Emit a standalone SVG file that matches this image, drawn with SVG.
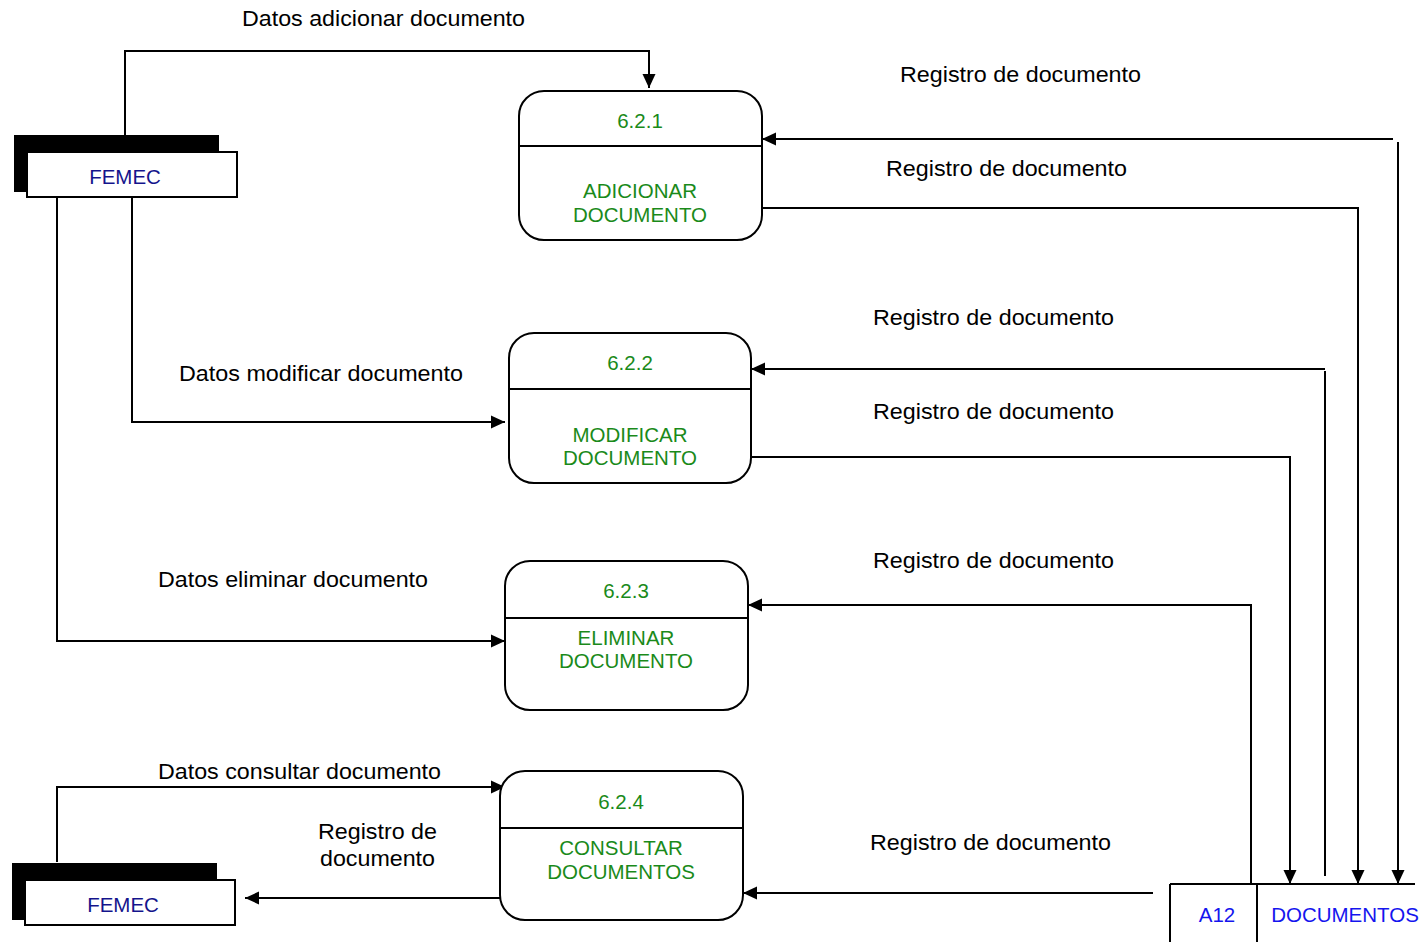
<svg xmlns="http://www.w3.org/2000/svg" width="1420" height="942" viewBox="0 0 1420 942">
<style>
.proc{fill:#fff;stroke:#000;stroke-width:2}
.div{stroke:#000;stroke-width:2}
.ln{fill:none;stroke:#000;stroke-width:2}
.pt{font-family:"Liberation Sans",Arial,sans-serif;font-size:20.5px;fill:#1a8a1a;text-anchor:middle;dominant-baseline:central}
.et{font-family:"Liberation Sans",Arial,sans-serif;font-size:20.5px;fill:#14148c;text-anchor:middle;dominant-baseline:central}
.st{font-family:"Liberation Sans",Arial,sans-serif;font-size:20.5px;fill:#1515ee;text-anchor:middle;dominant-baseline:central}
.lb{font-family:"Liberation Sans",Arial,sans-serif;font-size:22px;fill:#000;dominant-baseline:central}
</style>
<defs>
<marker id="ah" markerWidth="14" markerHeight="14" refX="14" refY="7" orient="auto" markerUnits="userSpaceOnUse">
<path d="M0,0.5 L14,7 L0,13.5 Z" fill="#000"/>
</marker>
</defs>
<rect width="1420" height="942" fill="#fff"/>

<g id="connectors">
<polyline class="ln" points="125,135 125,51 649,51 649,88" marker-end="url(#ah)"/>
<polyline class="ln" points="1393,139 762,139" marker-end="url(#ah)"/>
<polyline class="ln" points="1398,142 1398,884" marker-end="url(#ah)"/>
<polyline class="ln" points="762,208 1358,208 1358,884" marker-end="url(#ah)"/>
<polyline class="ln" points="132,197 132,422 505,422" marker-end="url(#ah)"/>
<polyline class="ln" points="1325,369 751,369" marker-end="url(#ah)"/>
<polyline class="ln" points="1325,371 1325,876"/>
<polyline class="ln" points="751,457 1290,457 1290,884" marker-end="url(#ah)"/>
<polyline class="ln" points="57,197 57,641 505,641" marker-end="url(#ah)"/>
<polyline class="ln" points="1251,884 1251,605 748,605" marker-end="url(#ah)"/>
<polyline class="ln" points="57,862 57,787 505,787" marker-end="url(#ah)"/>
<polyline class="ln" points="1153,893 743,893" marker-end="url(#ah)"/>
<polyline class="ln" points="505,898 245,898" marker-end="url(#ah)"/>
<text class="lb" x="242" y="18" textLength="283" lengthAdjust="spacingAndGlyphs">Datos adicionar documento</text>
<text class="lb" x="900" y="74" textLength="241" lengthAdjust="spacingAndGlyphs">Registro de documento</text>
<text class="lb" x="886" y="168" textLength="241" lengthAdjust="spacingAndGlyphs">Registro de documento</text>
<text class="lb" x="873" y="317" textLength="241" lengthAdjust="spacingAndGlyphs">Registro de documento</text>
<text class="lb" x="179" y="373" textLength="284" lengthAdjust="spacingAndGlyphs">Datos modificar documento</text>
<text class="lb" x="873" y="411" textLength="241" lengthAdjust="spacingAndGlyphs">Registro de documento</text>
<text class="lb" x="873" y="560" textLength="241" lengthAdjust="spacingAndGlyphs">Registro de documento</text>
<text class="lb" x="158" y="579" textLength="270" lengthAdjust="spacingAndGlyphs">Datos eliminar documento</text>
<text class="lb" x="158" y="771" textLength="283" lengthAdjust="spacingAndGlyphs">Datos consultar documento</text>
<text class="lb" x="318" y="831" textLength="119" lengthAdjust="spacingAndGlyphs">Registro de</text>
<text class="lb" x="320" y="858" textLength="115" lengthAdjust="spacingAndGlyphs">documento</text>
<text class="lb" x="870" y="842" textLength="241" lengthAdjust="spacingAndGlyphs">Registro de documento</text>
</g>

<g id="femec-top">
<rect x="14" y="135" width="205" height="57" fill="#000"/>
<rect x="27" y="152" width="210" height="45" fill="#fff" stroke="#000" stroke-width="2"/>
<text class="et" x="125" y="176">FEMEC</text>
</g>

<g id="femec-bottom">
<rect x="12" y="863" width="205" height="57" fill="#000"/>
<rect x="25" y="880" width="210" height="45" fill="#fff" stroke="#000" stroke-width="2"/>
<text class="et" x="123" y="904">FEMEC</text>
</g>

<g id="p621">
<rect class="proc" x="519" y="91" width="243" height="149" rx="25"/>
<line class="div" x1="519" y1="146" x2="762" y2="146"/>
<text class="pt" x="640" y="120">6.2.1</text>
<text class="pt" x="640" y="190">ADICIONAR</text>
<text class="pt" x="640" y="214">DOCUMENTO</text>
</g>

<g id="p622">
<rect class="proc" x="509" y="333" width="242" height="150" rx="25"/>
<line class="div" x1="509" y1="389" x2="751" y2="389"/>
<text class="pt" x="630" y="362">6.2.2</text>
<text class="pt" x="630" y="434">MODIFICAR</text>
<text class="pt" x="630" y="457">DOCUMENTO</text>
</g>

<g id="p623">
<rect class="proc" x="505" y="561" width="243" height="149" rx="25"/>
<line class="div" x1="505" y1="618" x2="748" y2="618"/>
<text class="pt" x="626" y="590">6.2.3</text>
<text class="pt" x="626" y="637">ELIMINAR</text>
<text class="pt" x="626" y="660">DOCUMENTO</text>
</g>

<g id="p624">
<rect class="proc" x="500" y="771" width="243" height="149" rx="25"/>
<line class="div" x1="500" y1="828" x2="743" y2="828"/>
<text class="pt" x="621" y="801">6.2.4</text>
<text class="pt" x="621" y="847">CONSULTAR</text>
<text class="pt" x="621" y="871">DOCUMENTOS</text>
</g>

<g id="store-a12">
<line class="div" x1="1170" y1="884" x2="1415" y2="884"/>
<line class="div" x1="1170" y1="884" x2="1170" y2="942"/>
<line class="div" x1="1257" y1="884" x2="1257" y2="942"/>
<text class="st" x="1217" y="914">A12</text>
<text class="st" x="1345" y="914">DOCUMENTOS</text>
</g>
</svg>
